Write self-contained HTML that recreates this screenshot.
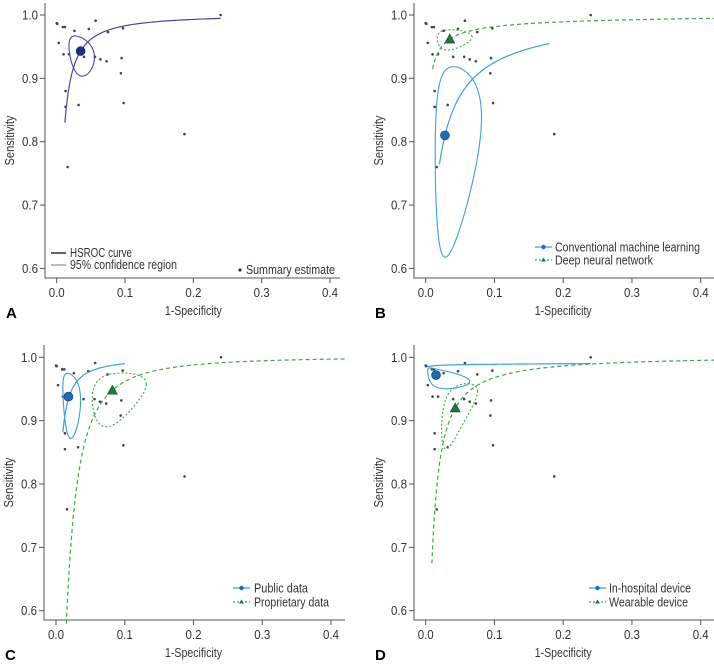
<!DOCTYPE html>
<html><head><meta charset="utf-8">
<style>
html,body{margin:0;padding:0;background:#fff;}
svg{display:block;font-family:"Liberation Sans Narrow","Liberation Sans",sans-serif;}
text{fill:#333;}
</style></head>
<body>
<svg id="chart" width="714" height="664" viewBox="0 0 714 664"></svg>
<script>
// Study-level data (1-specificity, sensitivity)
const studyFpr  = [0.0,0.001,0.009,0.012,0.026,0.047,0.057,0.003,0.010,0.018,0.040,0.056,0.064,0.073,0.075,0.097,0.094,0.095,0.013,0.013,0.032,0.098,0.187,0.240,0.016];
const studySens = [0.987,0.986,0.981,0.981,0.975,0.978,0.991,0.956,0.938,0.938,0.934,0.934,0.930,0.927,0.973,0.979,0.908,0.932,0.880,0.855,0.858,0.861,0.812,1.000,0.760];
const xTicks = [0.0,0.1,0.2,0.3,0.4];
const yTicks = [0.6,0.7,0.8,0.9,1.0];
const xTickLabels = ["0.0","0.1","0.2","0.3","0.4"];
const yTickLabels = ["0.6","0.7","0.8","0.9","1.0"];
// Groups: summary points
const groupNames   = ["overall","conventional-ml","deep-neural-network","public-data","proprietary-data","in-hospital-device","wearable-device"];
const summaryFpr   = [0.035,0.028,0.035,0.018,0.082,0.015,0.043];
const summarySens  = [0.943,0.810,0.962,0.938,0.948,0.972,0.920];
// HSROC curve: logit(se) = a + b*logit(fpr), over fpr range
const curveA    = [6.508,4.25,5.45,6.97,6.43,4.70,5.76];
const curveB    = [1.116,0.79,0.67,1.08,1.46,0.09,1.07];
const curveFrom = [0.012,0.02,0.01,0.01,0.015,0.003,0.009];
const curveTo   = [0.24,0.18,0.42,0.10,0.42,0.24,0.42];
// Confidence region (ellipse in logit space): centre, radii, correlation
const ellCx  = [0.0317,0.034,0.034,0.019,0.084,0.014,0.042];
const ellCy  = [0.943,0.81,0.964,0.942,0.947,0.971,0.921];
const ellRx  = [0.58,0.92,0.72,0.65,0.50,1.57,0.62];
const ellRy  = [0.57,0.97,0.45,0.87,0.79,0.56,0.68];
const ellRho = [-0.3,0.2,0.1,-0.2,0.3,-0.5,0.6];

const svg = document.getElementById('chart');
const NS = 'http://www.w3.org/2000/svg';
function mk(tag, attrs, parent){const e=document.createElementNS(NS,tag);for(const k in attrs)e.setAttribute(k,attrs[k]);(parent||svg).appendChild(e);return e;}
const logit=p=>Math.log(p/(1-p)), inv=l=>1/(1+Math.exp(-l));

const panels = [
 {id:'a',letter:'A',x0:56.7,xs:683.25,y1:15,ys:633.5,axL:45,axB:278,axT:3,axR:340,groups:[0],styles:['purple']},
 {id:'b',letter:'B',x0:425.7,xs:687.5,y1:15,ys:633.5,axL:414,axB:278,axT:3,axR:714,groups:[1,2],styles:['blue','green']},
 {id:'c',letter:'C',x0:56,xs:687.5,y1:357.3,ys:633.5,axL:44,axB:620,axT:345,axR:345,groups:[3,4],styles:['blue','green']},
 {id:'d',letter:'D',x0:425.7,xs:687.5,y1:357.3,ys:633.5,axL:414,axB:620,axT:345,axR:714,groups:[5,6],styles:['blue','green']}
];
const styleDef={
 purple:{stroke:'#4b46a6',dash:null,edash:null,fill:'#262a78'},
 blue:{stroke:'#3ba0de',dash:null,edash:null,fill:'#1f6cb3'},
 green:{stroke:'#3ea84a',dash:'4,3',edash:'2,2',fill:'#1c7a3c'}
};
function fit(t,len){t.setAttribute('textLength',len);t.setAttribute('lengthAdjust','spacingAndGlyphs');}

panels.forEach(p=>{
  const g=mk('g',{});
  
  
  const X=v=>p.x0+v*p.xs, Y=v=>p.y1+(1-v)*p.ys;
  const ax=mk('path',{d:`M${p.axL},${p.axT}V${p.axB}H${p.axR}`,fill:'none',stroke:'#555','stroke-width':1},g);
  
  
  xTicks.forEach((t,i)=>{
    mk('line',{x1:X(t),x2:X(t),y1:p.axB,y2:p.axB+5,stroke:'#555'},g);
    const tx=mk('text',{x:X(t),y:p.axB+19,'text-anchor':'middle','font-size':13},g);
    tx.textContent=xTickLabels[i];
    fit(tx,16);
    
    
  });
  yTicks.forEach((t,i)=>{
    mk('line',{x1:p.axL-5,x2:p.axL,y1:Y(t),y2:Y(t),stroke:'#555'},g);
    const tx=mk('text',{x:p.axL-7,y:Y(t)+4.5,'text-anchor':'end','font-size':13},g);
    tx.textContent=yTickLabels[i];
    fit(tx,16);
    
    
  });
  const xt=mk('text',{x:X(0.2),y:p.axB+37,'text-anchor':'middle','font-size':12.5},g);
  xt.textContent='1-Specificity';
  fit(xt,57);
  
  
  const yc=(p.axT+p.axB)/2;
  const yt=mk('text',{x:p.axL-31,y:yc,'text-anchor':'middle','font-size':12.5,transform:`rotate(-90 ${p.axL-31} ${yc})`},g);
  yt.textContent='Sensitivity';
  fit(yt,50);
  
  
  const lt=mk('text',{x:p.axL-39,y:p.axB+40,'font-size':15,'font-weight':'bold','font-family':'Liberation Sans, sans-serif'},g);
  lt.textContent=p.letter;
  lt.style.fill='#000';
  
  
  studyFpr.forEach((f,i)=>{
    const c=mk('circle',{cx:X(f),cy:Y(studySens[i]),r:1.3,fill:'#444'},g);
    
    
  });
  p.groups.forEach((gi,k)=>{
    const st=styleDef[p.styles[k]];
    let d='';
    const l0=logit(curveFrom[gi]), l1=logit(curveTo[gi]);
    for(let s=0;s<=120;s++){
      const lf=l0+(l1-l0)*s/120;
      const f=inv(lf), se=inv(curveA[gi]+curveB[gi]*lf);
      d+=(s?'L':'M')+X(f).toFixed(2)+','+Y(se).toFixed(2);
    }
    const cv=mk('path',{d,fill:'none',stroke:st.stroke,'stroke-width':1.2},g);
    if(st.dash)cv.setAttribute('stroke-dasharray',st.dash);
    
    
    let e='';
    const cx=logit(ellCx[gi]), cy=logit(ellCy[gi]), r=ellRho[gi], q=Math.sqrt(1-r*r);
    for(let s=0;s<=160;s++){
      const t=2*Math.PI*s/160;
      const lx=cx+ellRx[gi]*Math.cos(t);
      const ly=cy+ellRy[gi]*(r*Math.cos(t)+q*Math.sin(t));
      e+=(s?'L':'M')+X(inv(lx)).toFixed(2)+','+Y(inv(ly)).toFixed(2);
    }
    const el=mk('path',{d:e+'Z',fill:'none',stroke:st.stroke,'stroke-width':1.1},g);
    if(st.edash)el.setAttribute('stroke-dasharray',st.edash);
    
    
    const sx=X(summaryFpr[gi]), sy=Y(summarySens[gi]);
    let m;
    if(p.styles[k]==='green'){
      m=mk('path',{d:`M${sx},${sy-5}L${sx+5},${sy+4}L${sx-5},${sy+4}Z`,fill:st.fill,stroke:'#0d4a22','stroke-width':0.6},g);
    }else{
      m=mk('circle',{cx:sx,cy:sy,r:4.5,fill:st.fill,stroke:'#103a6a','stroke-width':0.6},g);
    }
    
    
  });
});

function legText(x,y,s,name,len){const t=mk('text',{x,y,'font-size':12.5});t.textContent=s;fit(t,len);return t;}
// Panel A
mk('line',{x1:51,x2:66,y1:253,y2:253,stroke:'#111','stroke-width':1.3});
legText(70,257,'HSROC curve','legend-hsroc-curve',62);
mk('line',{x1:51,x2:66,y1:265,y2:265,stroke:'#555','stroke-width':0.8});
legText(70,269,'95% confidence region','legend-confidence-region',107);
mk('circle',{cx:240,cy:270,r:1.6,fill:'#262a78'});
legText(246,274,'Summary estimate','legend-summary-estimate',89);
// Panel B
mk('line',{x1:535,x2:552,y1:247,y2:247,stroke:'#3ba0de','stroke-width':1.2});
mk('circle',{cx:543.5,cy:247,r:2.2,fill:'#1f6cb3'});
legText(555,251.5,'Conventional machine learning','legend-conventional-ml',145);
mk('line',{x1:535,x2:552,y1:260,y2:260,stroke:'#3ea84a','stroke-width':1.2,'stroke-dasharray':'2,2'});
mk('path',{d:'M543.5,257.5L546,261.5L541,261.5Z',fill:'#1c7a3c'});
legText(555,264.5,'Deep neural network','legend-deep-neural-network',98);
// Panel C
mk('line',{x1:233,x2:250,y1:588,y2:588,stroke:'#3ba0de','stroke-width':1.2});
mk('circle',{cx:241.5,cy:588,r:2.2,fill:'#1f6cb3'});
legText(254,592.5,'Public data','legend-public-data',54);
mk('line',{x1:233,x2:250,y1:602,y2:602,stroke:'#3ea84a','stroke-width':1.2,'stroke-dasharray':'2,2'});
mk('path',{d:'M241.5,599.5L244,603.5L239,603.5Z',fill:'#1c7a3c'});
legText(254,606.5,'Proprietary data','legend-proprietary-data',75);
// Panel D
mk('line',{x1:589,x2:606,y1:588,y2:588,stroke:'#3ba0de','stroke-width':1.2});
mk('circle',{cx:597.5,cy:588,r:2.2,fill:'#1f6cb3'});
legText(609,592.5,'In-hospital device','legend-in-hospital-device',82);
mk('line',{x1:589,x2:606,y1:602,y2:602,stroke:'#3ea84a','stroke-width':1.2,'stroke-dasharray':'2,2'});
mk('path',{d:'M597.5,599.5L600,603.5L595,603.5Z',fill:'#1c7a3c'});
legText(609,606.5,'Wearable device','legend-wearable-device',79);
</script>
</body></html>
